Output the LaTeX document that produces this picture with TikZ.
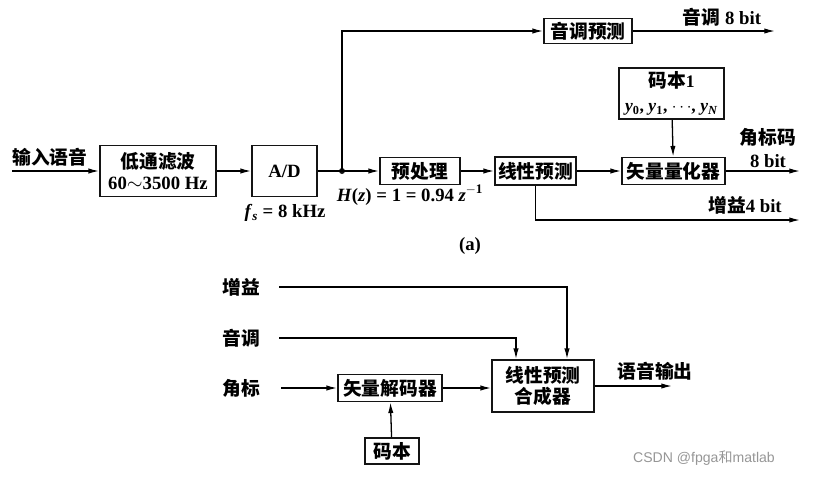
\documentclass[tikz,border=0pt]{standalone}
\usepackage{fontspec}
\setmainfont{Liberation Serif}
\newfontfamily\cjk{Noto Sans CJK SC}
\newfontfamily\wmfont{Liberation Sans}
\usetikzlibrary{arrows.meta,positioning}
\definecolor{ink}{RGB}{20,20,20}
\definecolor{mark}{RGB}{150,150,150}

\begin{document}
\begin{tikzpicture}[x=0.3mm,y=-0.3mm,
    blk/.style={draw=ink,line width=1.5pt,inner sep=0pt,align=center,font=\fontsize{16}{18}\selectfont\bfseries},
    lbl/.style={inner sep=1pt,align=center,font=\fontsize{16}{18}\selectfont\bfseries},
    arr/.style={line width=1.1pt,-{Latex[length=3.2mm,width=1.6mm]}},
    ln/.style={line width=1.1pt}]
  \useasboundingbox (0,0) rectangle (816,478);
  % (a) coder
  \node[blk,minimum width=34.8mm,minimum height=15.3mm] (lpf) at (158,171) {{\cjk 低通滤波}\\60$\sim$3500 Hz};
  \node[blk,minimum width=19.5mm,minimum height=15.3mm] (ad) at (284.5,171) {A/D};
  \node[blk,minimum width=24mm,minimum height=8.1mm] (pre) at (420,171) {\cjk 预处理};
  \node[blk,minimum width=24.3mm,minimum height=8.4mm] (lp) at (535.5,171) {\cjk 线性预测};
  \node[blk,minimum width=30.9mm,minimum height=8.1mm] (vq) at (673.5,171) {\cjk 矢量量化器};
  \node[blk,minimum width=31.5mm,minimum height=15.3mm,font=\fontsize{15}{21}\selectfont\bfseries] (cb1) at (671.5,93.5) {{\cjk\fontsize{16}{21}\selectfont 码本}1\\\textit{y}\textsubscript{0}, \textit{y}\textsubscript{1}, $\cdots$, \textit{y}\textsubscript{\textit{N}}};
  \node[blk,minimum width=26.4mm,minimum height=7.5mm] (pitch) at (588,31) {\cjk 音调预测};
  \coordinate (in) at (12,171);
  \coordinate (dot) at (342,171);
  \coordinate (pout) at (775,31);
  \coordinate (vqout) at (800,171);
  \coordinate (gout) at (800,220);
  \fill[ink] (dot) circle (3);
  \draw[arr] (in) -- (lpf);
  \draw[arr] (lpf) -- (ad);
  \draw[ln] (ad) -- (dot);
  \draw[arr] (dot) -- (pre);
  \draw[arr] (dot) |- (pitch);
  \draw[arr] (pitch) -- (pout);
  \draw[arr] (pre) -- (lp);
  \draw[arr] (lp) -- (vq);
  \draw[arr] (cb1) -- (vq);
  \draw[arr] (vq) -- (vqout);
  \draw[arr] (lp.south) |- (gout);
  \node[lbl] (inlbl) at (50,157) {\cjk 输入语音};
  \node[lbl] (fs) at (285,213) {\textit{f}\textsubscript{\textit{s}} = 8 kHz};
  \node[lbl] (hz) at (410,195) {\textit{H}(\textit{z}) = 1 = 0.94 \textit{z}\textsuperscript{$-$1}};
  \node[lbl] (plbl) at (722,17) {{\cjk 音调} 8 bit};
  \node[lbl,font=\fontsize{16}{19}\selectfont\bfseries] (ilbl) at (768,148) {\cjk 角标码\\8 bit};
  \node[lbl] (glbl) at (745,205) {{\cjk 增益}4 bit};
  \node[lbl] (cap) at (470,246) {(a)};
  % decoder
  \node[blk,minimum width=31.2mm,minimum height=8.1mm] (vd) at (390,388) {\cjk 矢量解码器};
  \node[blk,minimum width=30.6mm,minimum height=15.6mm] (syn) at (543,386) {{\cjk 线性预测}\\{\cjk 合成器}};
  \node[blk,minimum width=16.2mm,minimum height=7.8mm] (cb) at (392,451) {\cjk 码本};
  \node[lbl] (gin) at (241,287) {\cjk 增益};
  \node[lbl] (pin) at (241,338) {\cjk 音调};
  \node[lbl] (iin) at (241,388) {\cjk 角标};
  \coordinate (sout) at (672,386);
  \draw[arr,shorten <=5.5mm] (gin.east) -| ([xshift=7.2mm]syn.north);
  \draw[arr,shorten <=5.5mm] (pin.east) -| ([xshift=-8.1mm]syn.north);
  \draw[arr,shorten <=6mm] (iin.east) -- (vd);
  \draw[arr] (vd) -- (vd -| syn.west);
  \draw[arr] (cb) -- (vd);
  \draw[arr] (syn) -- (sout);
  \node[lbl] (olbl) at (655,371) {\cjk 语音输出};
  \node[text=mark,font=\fontsize{12}{14}\selectfont\wmfont] (wm) at (704,458) {CSDN @fpga{\cjk 和}matlab};
\end{tikzpicture}
\end{document}
